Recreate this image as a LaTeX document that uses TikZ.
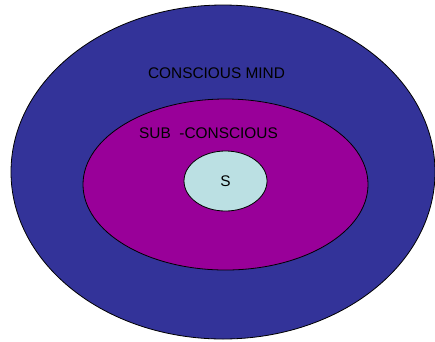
\documentclass[tikz,border=0pt]{standalone}
\usepackage{fontspec}
\setmainfont{Liberation Sans}
\usepackage{xcolor}
\usepackage{tikz}
\usetikzlibrary{shapes.geometric}
\definecolor{mindblue}{HTML}{333399}
\definecolor{subpurple}{HTML}{990099}
\definecolor{selfcyan}{HTML}{BBE0E3}
\begin{document}
\begin{tikzpicture}[x=1pt,y=-1pt,
  ring/.style={ellipse,draw=black,line width=.8pt,inner sep=0pt},
  lbl/.style={font=\fontsize{15.4}{17}\selectfont,inner sep=0pt}]
\useasboundingbox (0,0) rectangle (435,341);
\node[ring,fill=mindblue,minimum width=424pt,minimum height=334pt] (mind) at (223,172){};
\node[ring,fill=subpurple,minimum width=285pt,minimum height=171pt] (sub) at (225.5,184.5){};
\node[ring,fill=selfcyan,minimum width=83pt,minimum height=60pt] (self) at (225.5,181){};
\node[lbl] (mindtext) at (216.5,73){CONSCIOUS MIND};
\node[lbl] (subtext) at (208.5,133){SUB\ \ -CONSCIOUS};
\node[lbl] at (self){S};
\end{tikzpicture}
\end{document}
